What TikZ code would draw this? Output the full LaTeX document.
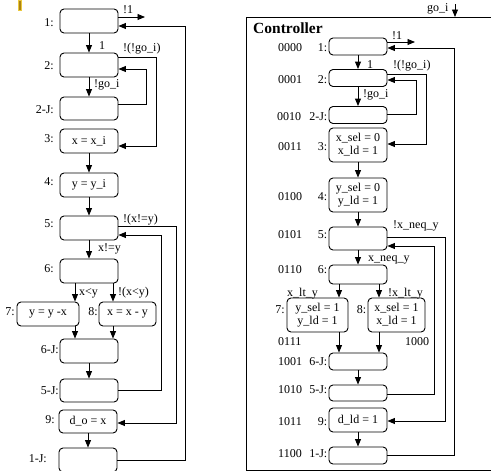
\documentclass[tikz,border=0pt]{standalone}
\usepackage{fontspec}
\setmainfont{Liberation Serif}
\usetikzlibrary{arrows.meta}
\definecolor{markfill}{RGB}{170,130,20}
\definecolor{markedge}{RGB}{235,200,60}
\begin{document}
\begin{tikzpicture}[x=1pt,y=-1pt,
  box/.style={draw, rounded corners=4pt, line width=0.9pt, inner sep=0pt, align=center,
              font=\fontsize{12}{13}\selectfont},
  lw/.style={minimum width=58pt},
  lbl/.style={inner sep=0pt, font=\fontsize{12}{13}\selectfont},
  arr/.style={line width=0.9pt, -{Triangle[length=7.5pt,width=6pt]}},
  ln/.style={line width=0.9pt}]
\useasboundingbox (0,0) rectangle (491,471);
\filldraw[fill=markfill, draw=markedge, line width=1pt] (18,0) rectangle (21,10.5);

% ---------------- left diagram ----------------
\node[box, lw, minimum height=24pt] (L1)  at (89,21)    {};
\node[box, lw, minimum height=24pt] (L2)  at (89,65)    {};
\node[box, lw, minimum height=23pt] (L2J) at (89,108.5) {};
\node[box, lw, minimum height=24pt] (L3)  at (89,141)   {x = x\_i};
\node[box, lw, minimum height=24pt] (L4)  at (89,185)   {y = y\_i};
\node[box, lw, minimum height=24pt] (L5)  at (89,228)   {};
\node[box, lw, minimum height=24pt] (L6)  at (89,271)   {};
\node[box, minimum width=62pt, minimum height=24pt] (L7) at (48,314) {y = y -x};
\node[box, minimum width=57pt, minimum height=24pt] (L8) at (127.5,314) {x = x - y};
\node[box, lw, minimum height=24pt] (L6J) at (89,351)   {};
\node[box, lw, minimum height=23pt] (L5J) at (89,390.5) {};
\node[box, lw, minimum height=23pt] (L9)  at (88,421.5) {d\_o = x};
\node[box, lw, minimum height=24pt] (L1J) at (88,460)   {};

\node[lbl, anchor=base east] (l1)  at (54,27)  {1:};
\node[lbl, anchor=base east] (l2)  at (54,70)  {2:};
\node[lbl, anchor=base east] (l2j) at (54,113) {2-J:};
\node[lbl, anchor=base east] (l3)  at (54,142) {3:};
\node[lbl, anchor=base east] (l4)  at (54,185) {4:};
\node[lbl, anchor=base east] (l5)  at (54,227) {5:};
\node[lbl, anchor=base east] (l6)  at (54,272) {6:};
\node[lbl, anchor=base east] (l7)  at (15,315) {7:};
\node[lbl, anchor=base east] (l8)  at (98,315) {8:};
\node[lbl, anchor=base east] (l6j) at (59,353) {6-J:};
\node[lbl, anchor=base east] (l5j) at (59,394) {5-J:};
\node[lbl, anchor=base east] (l9)  at (55,423) {9:};
\node[lbl, anchor=base east] (l1j) at (47,462) {1-J:};

\draw[arr] (L1) -- (L2);
\draw[arr] (L2) -- (L2J);
\draw[arr] (L3) -- (L4);
\draw[arr] (L4) -- (L5);
\draw[arr] (L5) -- (L6);
\draw[arr] (L6J) -- (L5J);
\draw[arr] (L9) -- (L1J);
\coordinate (lx1) at (75,0);
\coordinate (lx2) at (113,0);
\draw[arr] (L6.south -| lx1) -- (L7.north -| lx1);
\draw[arr] (L6.south -| lx2) -- (L8.north -| lx2);
\draw[arr] (L7.south -| lx1) -- (L6J.north -| lx1);
\draw[arr] (L8.south -| lx2) -- (L6J.north -| lx2);

\coordinate (Lout) at (145,17);
\draw[arr] (L1.east |- Lout) -- (Lout);
\draw[arr] (L1J.east) -- ++(68,0) |- ([yshift=-5pt]L1.east);
\draw[arr] ([yshift=8pt]L2.east) -- ++(38,0) |- ([yshift=-5pt]L3.east);
\draw[arr] ([yshift=4.5pt]L2J.east) -- ++(28,0) |- ([yshift=-4pt]L2.east);
\draw[arr] ([yshift=2pt]L5.east) -- ++(58,0) |- ([yshift=-1.5pt]L9.east);
\draw[arr] (L5J.east) -- ++(43,0) |- ([yshift=-7pt]L5.east);

\node[lbl, anchor=base west] (e1) at (123,13)  {!1};
\node[lbl, anchor=base west] (e2) at (99,49)   {1};
\node[lbl, anchor=base west] (e3) at (123,51)  {!(!go\_i)};
\node[lbl, anchor=base west] (e4) at (94,87)   {!go\_i};
\node[lbl, anchor=base west] (e5) at (123,222) {!(x!=y)};
\node[lbl, anchor=base west] (e6) at (98,251)  {x!=y};
\node[lbl, anchor=base west] (e7) at (79,295)  {x<y};
\node[lbl, anchor=base west] (e8) at (118,295) {!(x<y)};

% ---------------- controller ----------------
\draw[ln] (491,17) -- (246,17) -- (246,470) -- (491,470);
\coordinate (ctop) at (455,17);
\coordinate (gsrc) at (455,4);
\draw[arr] (gsrc) -- (ctop);
\node[lbl, anchor=base west] (gi) at (427,12) {go\_i};
\node[inner sep=0pt, anchor=base west, font=\fontsize{15.5}{17}\bfseries\selectfont] (ct) at (253,34) {Controller};

\node[box, lw, minimum height=17pt] (R1)  at (358,46.5) {};
\node[box, lw, minimum height=17pt] (R2)  at (358,78)   {};
\node[box, lw, minimum height=17pt] (R2J) at (358,115)  {};
\node[box, lw, minimum height=34pt] (R3)  at (358,145)  {x\_sel = 0\\x\_ld = 1};
\node[box, lw, minimum height=34pt] (R4)  at (358,195)  {y\_sel = 0\\y\_ld = 1};
\node[box, lw, minimum height=23pt] (R5)  at (358,238.5) {};
\node[box, lw, minimum height=19pt] (R6)  at (358,274.5) {};
\node[box, minimum width=61pt, minimum height=34pt] (R7) at (317.5,315) {y\_sel = 1\\y\_ld = 1};
\node[box, minimum width=57pt, minimum height=34pt] (R8) at (396.5,315) {x\_sel = 1\\x\_ld = 1};
\node[box, lw, minimum height=17pt] (R6J) at (358,361.5) {};
\node[box, lw, minimum height=16pt] (R5J) at (358,393)   {};
\node[box, lw, minimum height=24pt] (R9)  at (358,420)   {d\_ld = 1};
\node[box, lw, minimum height=17pt] (R1J) at (358,455.5) {};

\node[lbl, anchor=base west] (c1)  at (278,52)  {0000};
\node[lbl, anchor=base west] (c2)  at (278,83)  {0001};
\node[lbl, anchor=base west] (c2j) at (277,121) {0010};
\node[lbl, anchor=base west] (c3)  at (278,150) {0011};
\node[lbl, anchor=base west] (c4)  at (278,200) {0100};
\node[lbl, anchor=base west] (c5)  at (278,238) {0101};
\node[lbl, anchor=base west] (c6)  at (278,273) {0110};
\node[lbl, anchor=base west] (c7)  at (278,345) {0111};
\node[lbl, anchor=base west] (c8)  at (405,345) {1000};
\node[lbl, anchor=base west] (c6j) at (278,365) {1001};
\node[lbl, anchor=base west] (c5j) at (278,393) {1010};
\node[lbl, anchor=base west] (c9)  at (278,425) {1011};
\node[lbl, anchor=base west] (c1j) at (278,457) {1100};

\node[lbl, anchor=base east] (r1)  at (327.5,52)  {1:};
\node[lbl, anchor=base east] (r2)  at (327.5,83)  {2:};
\node[lbl, anchor=base east] (r2j) at (327.5,121) {2-J:};
\node[lbl, anchor=base east] (r3)  at (327.5,150) {3:};
\node[lbl, anchor=base east] (r4)  at (327.5,200) {4:};
\node[lbl, anchor=base east] (r5)  at (327.5,238) {5:};
\node[lbl, anchor=base east] (r6)  at (327.5,273) {6:};
\node[lbl, anchor=base east] (r7)  at (285,313)   {7:};
\node[lbl, anchor=base east] (r8)  at (366.5,313) {8:};
\node[lbl, anchor=base east] (r6j) at (327.5,365) {6-J:};
\node[lbl, anchor=base east] (r5j) at (327.5,393) {5-J:};
\node[lbl, anchor=base east] (r9)  at (327.5,425) {9:};
\node[lbl, anchor=base east] (r1j) at (327.5,457) {1-J:};

\draw[arr] (R1) -- (R2);
\draw[arr] (R2) -- (R2J);
\draw[arr] (R3) -- (R4);
\draw[arr] (R4) -- (R5);
\draw[arr] (R5) -- (R6);
\draw[arr] (R6J) -- (R5J);
\draw[arr] (R9) -- (R1J);
\coordinate (rx1) at (339,0);
\coordinate (rx2) at (379,0);
\draw[arr] (R6.south -| rx1) -- (R7.north -| rx1);
\draw[arr] (R6.south -| rx2) -- (R8.north -| rx2);
\draw[arr] (R7.south -| rx1) -- (R6J.north -| rx1);
\draw[arr] (R8.south -| rx2) -- (R6J.north -| rx2);

\coordinate (Rout) at (415,42);
\draw[arr] (R1.east |- Rout) -- (Rout);
\draw[arr] (R1J.east) -- ++(67,0) |- ([yshift=-1.5pt]R1.east);
\draw[arr] ([yshift=4pt]R2.east) -- ++(39,0) |- ([yshift=1pt]R3.east);
\draw[arr] ([yshift=1pt]R2J.east) -- ++(29,0) |- ([yshift=-2pt]R2.east);
\draw[arr] ([yshift=1.5pt]R5.east) -- ++(58,0) |- ([yshift=-1pt]R9.east);
\draw[arr] ([yshift=-1pt]R5J.east) -- ++(47,0) |- ([yshift=-7.5pt]R5.east);

\node[lbl, anchor=base west] (f1) at (392,39)  {!1};
\node[lbl, anchor=base west] (f2) at (367,68)  {1};
\node[lbl, anchor=base west] (f3) at (393,68)  {!(!go\_i)};
\node[lbl, anchor=base west] (f4) at (363,97)  {!go\_i};
\node[lbl, anchor=base west] (f5) at (393,228) {!x\_neq\_y};
\node[lbl, anchor=base west] (f6) at (368,261) {x\_neq\_y};
\node[lbl, anchor=base west] (f7) at (287,296) {x\_lt\_y};
\node[lbl, anchor=base west] (f8) at (388,296) {!x\_lt\_y};
\end{tikzpicture}
\end{document}
